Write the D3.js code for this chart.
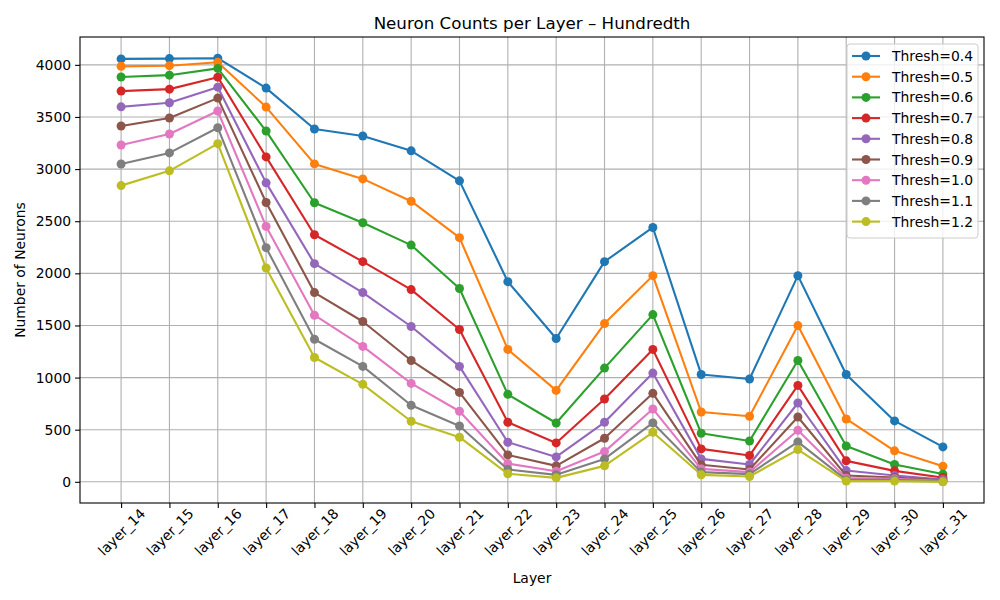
<!DOCTYPE html>
<html><head><meta charset="utf-8">
<script src="https://cdn.jsdelivr.net/npm/d3@7"></script>
<style>body{margin:0;background:#fff}svg{font-family:"DejaVu Sans",sans-serif}</style>
</head><body><svg id="c" width="1000" height="600"></svg>
<script>
const layers = ["layer_14","layer_15","layer_16","layer_17","layer_18","layer_19","layer_20","layer_21","layer_22","layer_23","layer_24","layer_25","layer_26","layer_27","layer_28","layer_29","layer_30","layer_31"];
const seriesNames = ["Thresh=0.4","Thresh=0.5","Thresh=0.6","Thresh=0.7","Thresh=0.8","Thresh=0.9","Thresh=1.0","Thresh=1.1","Thresh=1.2"];
const t04 = [4057,4060,4064,3777,3385,3318,3175,2887,1920,1375,2112,2440,1030,986,1978,1030,584,335];
const t05 = [3986,3992,4025,3595,3050,2906,2692,2342,1270,877,1518,1978,670,629,1499,603,297,150];
const t06 = [3884,3901,3966,3365,2677,2485,2271,1854,839,564,1091,1604,466,392,1164,344,166,74];
const t07 = [3748,3767,3882,3117,2370,2112,1844,1461,571,373,794,1270,316,252,925,201,105,41];
const t08 = [3597,3636,3786,2868,2093,1815,1490,1107,380,239,571,1043,220,166,756,108,60,22];
const t09 = [3413,3490,3681,2679,1815,1538,1164,858,258,153,418,849,163,118,622,60,41,12];
const t10 = [3231,3337,3557,2450,1598,1299,944,677,175,102,290,699,124,93,494,35,29,7];
const t11 = [3049,3155,3397,2246,1368,1107,734,536,118,67,220,565,93,74,383,19,19,3];
const t12 = [2842,2983,3244,2051,1193,935,581,428,77,38,153,475,67,51,309,7,7,0];
const yTicks = [0,500,1000,1500,2000,2500,3000,3500,4000];
const colors = ["#1f77b4","#ff7f0e","#2ca02c","#d62728","#9467bd","#8c564b","#e377c2","#7f7f7f","#bcbd22"];
const series = [t04,t05,t06,t07,t08,t09,t10,t11,t12];

const svg = d3.select("#c");
const L=80, R=984, T=37, B=503;
const n = layers.length;
const x = d3.scaleLinear().domain([-0.85, n-1+0.85]).range([L,R]);
const allVals = series.flat();
const ymax = d3.max(allVals), ymin = d3.min(allVals);
const pad = (ymax-ymin)*0.05;
const y = d3.scaleLinear().domain([ymin-pad, ymax+pad]).range([B,T]);

// grid
const g = svg.append("g");
layers.forEach((l,i)=>{
  g.append("line").attr("x1",x(i)).attr("x2",x(i)).attr("y1",T).attr("y2",B).attr("stroke","#b0b0b0").attr("stroke-width",1.1);
});
yTicks.forEach(v=>{
  g.append("line").attr("x1",L).attr("x2",R).attr("y1",y(v)).attr("y2",y(v)).attr("stroke","#b0b0b0").attr("stroke-width",1.1);
});

// lines
series.forEach((s,k)=>{
  const line = d3.line().x((d,i)=>x(i)).y(d=>y(d));
  svg.append("path").datum(s).attr("d",line).attr("fill","none").attr("stroke",colors[k]).attr("stroke-width",2.1).attr("stroke-linejoin","round").attr("stroke-linecap","square");
  svg.append("g").selectAll("circle").data(s).join("circle").attr("cx",(d,i)=>x(i)).attr("cy",d=>y(d)).attr("r",4.5).attr("fill",colors[k]);
});

// spines
svg.append("rect").attr("x",L).attr("y",T).attr("width",R-L).attr("height",B-T).attr("fill","none").attr("stroke","#000").attr("stroke-width",1.1);

// y axis
const yAxis = d3.axisLeft(y).tickValues(yTicks).tickSize(4.9).tickPadding(4).tickFormat(d3.format("d"));
const ya = svg.append("g").attr("transform",`translate(${L},0)`).call(yAxis);
ya.select(".domain").remove();
ya.selectAll("text").attr("font-size","13.9px").attr("font-family","DejaVu Sans").attr("fill","#000");
ya.selectAll("line").attr("stroke","#000").attr("stroke-width",1.1);

// x axis
const xAxis = d3.axisBottom(x).tickValues(d3.range(n)).tickSize(4.9).tickFormat(i=>layers[i]);
const xa = svg.append("g").attr("transform",`translate(0,${B})`).call(xAxis);
xa.select(".domain").remove();
xa.selectAll("line").attr("stroke","#000").attr("stroke-width",1.1);
xa.selectAll("text").attr("font-size","13.9px").attr("font-family","DejaVu Sans").attr("fill","#000")
  .attr("y",null).attr("dy",null).attr("text-anchor","middle").attr("dominant-baseline","central")
  .attr("transform","translate(0,29) rotate(-45)");

// labels
svg.append("text").attr("x",(L+R)/2).attr("y",29).attr("text-anchor","middle").attr("font-size","16.7px").text("Neuron Counts per Layer – Hundredth");
svg.append("text").attr("x",(L+R)/2).attr("y",583).attr("text-anchor","middle").attr("font-size","13.9px").text("Layer");
svg.append("text").attr("transform",`translate(25,${(T+B)/2}) rotate(-90)`).attr("text-anchor","middle").attr("font-size","13.9px").text("Number of Neurons");

// legend
const lg = svg.append("g");
lg.append("rect").attr("x",847).attr("y",44).attr("width",131).attr("height",194).attr("rx",3).attr("fill","#fff").attr("fill-opacity",0.8).attr("stroke","#ccc").attr("stroke-width",1);
seriesNames.forEach((nm,k)=>{
  const yy = 56 + k*20.7;
  lg.append("line").attr("x1",852).attr("x2",880).attr("y1",yy).attr("y2",yy).attr("stroke",colors[k]).attr("stroke-width",2.1);
  lg.append("circle").attr("cx",866).attr("cy",yy).attr("r",4.5).attr("fill",colors[k]);
  lg.append("text").attr("x",892).attr("y",yy).attr("dominant-baseline","central").attr("font-size","13.9px").text(nm);
});
</script></body></html>
